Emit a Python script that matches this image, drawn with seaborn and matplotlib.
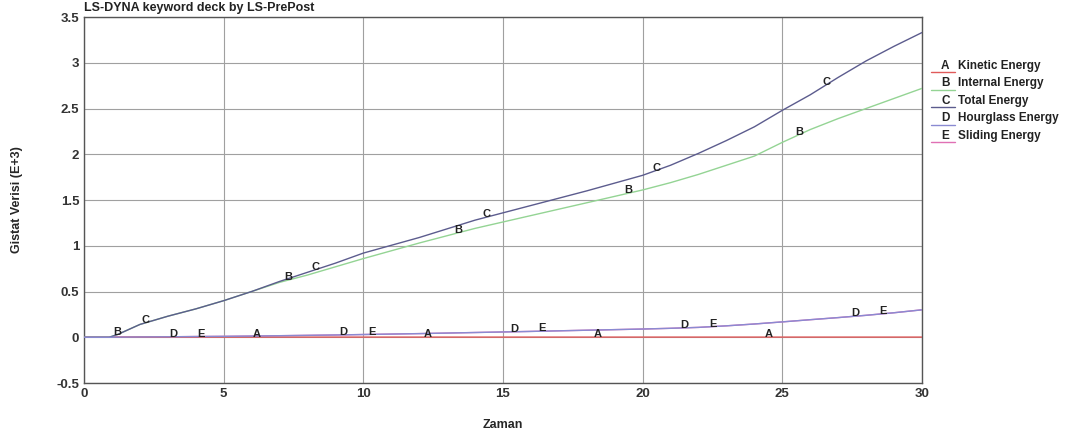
import numpy as np
import pandas as pd
import matplotlib
matplotlib.use("Agg")
import matplotlib.pyplot as plt
import seaborn as sns
from matplotlib.lines import Line2D

# ---- data (values in E+3) ----
time = [0, 0.9, 1.2, 2, 3, 4, 5, 6, 7, 8, 9, 10, 12, 14, 15, 16, 18, 20, 21, 22, 23, 24, 25, 26, 27, 28, 29, 30]
kinetic = [0, 0, 0.001, 0.002, 0.002, 0.002, 0.002, 0.002, 0.002, 0.002, 0.002, 0.002, 0.002, 0.002,
           0.002, 0.002, 0.002, 0.002, 0.002, 0.002, 0.002, 0.002, 0.002, 0.002, 0.002, 0.002, 0.002, 0.002]
internal = [0, 0, 0.03, 0.14, 0.23, 0.31, 0.40, 0.50, 0.60, 0.68, 0.77, 0.86, 1.03, 1.19, 1.26, 1.33,
            1.47, 1.61, 1.69, 1.78, 1.88, 1.98, 2.13, 2.27, 2.39, 2.50, 2.61, 2.72]
total = [0, 0, 0.03, 0.14, 0.23, 0.31, 0.40, 0.50, 0.61, 0.71, 0.81, 0.92, 1.09, 1.28, 1.36, 1.44,
         1.60, 1.77, 1.88, 2.01, 2.15, 2.30, 2.48, 2.65, 2.84, 3.02, 3.18, 3.33]
hourglass = [0, 0, 0.001, 0.003, 0.005, 0.008, 0.010, 0.013, 0.017, 0.021, 0.025, 0.030, 0.040, 0.052,
             0.058, 0.064, 0.077, 0.090, 0.098, 0.108, 0.125, 0.145, 0.168, 0.192, 0.215, 0.240, 0.268, 0.300]
sliding = [0, 0, 0.001, 0.003, 0.005, 0.008, 0.010, 0.013, 0.017, 0.021, 0.025, 0.030, 0.040, 0.052,
           0.058, 0.064, 0.077, 0.090, 0.098, 0.108, 0.125, 0.145, 0.168, 0.192, 0.215, 0.240, 0.268, 0.300]

letters = ["A", "B", "C", "D", "E"]
names = ["Kinetic Energy", "Internal Energy", "Total Energy", "Hourglass Energy", "Sliding Energy"]
series = [kinetic, internal, total, hourglass, sliding]
colors = ["#e05a5a", "#94d494", "#5c5c8e", "#8a8ad2", "#e070b4"]
zorders = [3, 3, 3, 4, 2]
label_start = [6.2, 1.2, 2.2, 3.2, 4.2]
label_step = 6.1

sns.set_style("white")
plt.rcParams["font.family"] = ["Liberation Sans", "DejaVu Sans"]
plt.rcParams["font.weight"] = "bold"

fig = plt.figure(figsize=(10.83, 4.43), dpi=100)
ax = fig.add_axes([0.0776, 0.1354, 0.7737, 0.8262])

df = pd.DataFrame({"t": time})
for name, vals in zip(names, series):
    df[name] = vals

for letter, name, col, x0, zo in zip(letters, names, colors, label_start, zorders):
    sns.lineplot(data=df, x="t", y=name, ax=ax, color=col, linewidth=1.0, zorder=zo)
    xs = np.arange(x0, 30, label_step)
    for xl in xs:
        yl = np.interp(xl, df["t"], df[name])
        ax.text(xl, yl + 0.03, letter, fontsize=8, fontweight="bold", ha="center", va="center",
                color="#222222", zorder=5)

ax.set_xlim(0, 30)
ax.set_ylim(-0.5, 3.5)
ax.set_xticks(np.arange(0, 31, 5))
ax.set_yticks(np.arange(-0.5, 3.51, 0.5))
ax.set_yticklabels(["-0.5", "0", "0.5", "1", "1.5", "2", "2.5", "3", "3.5"])
ax.set_xticks(np.arange(2.5, 30, 5), minor=True)
ax.set_yticks(np.arange(-0.25, 3.5, 0.5), minor=True)
ax.grid(True, which="major", color="#a0a0a0", linewidth=0.8)
ax.tick_params(axis="both", which="major", labelsize=9.5, length=4, direction="in", colors="#333333")
ax.tick_params(axis="both", which="minor", length=6, direction="in", color="#888888")
for lbl in ax.get_xticklabels() + ax.get_yticklabels():
    lbl.set_fontweight("bold")
for sp in ax.spines.values():
    sp.set_color("#555555")
    sp.set_linewidth(1.0)

ax.set_xlabel("Zaman", fontsize=9, fontweight="bold", labelpad=14)
ax.set_ylabel("Gistat Verisi (E+3)", fontsize=9, fontweight="bold", labelpad=24)
fig.text(0.0776, 0.982, "LS-DYNA keyword deck by LS-PrePost", fontsize=9, fontweight="bold",
         ha="left", va="center", color="#222222")

# legend to the right
for i, (letter, name, col) in enumerate(zip(letters, names, colors)):
    yy = 0.852 - i * 0.0395
    fig.text(0.869, yy, letter, fontsize=8.5, fontweight="bold", ha="left", va="center", color="#222222")
    fig.text(0.885, yy, name, fontsize=8.5, fontweight="bold", ha="left", va="center", color="#222222")
    fig.add_artist(Line2D([0.860, 0.882], [yy - 0.015, yy - 0.015], color=col, linewidth=1.0,
                          transform=fig.transFigure))

fig.savefig("out.png", dpi=100)
